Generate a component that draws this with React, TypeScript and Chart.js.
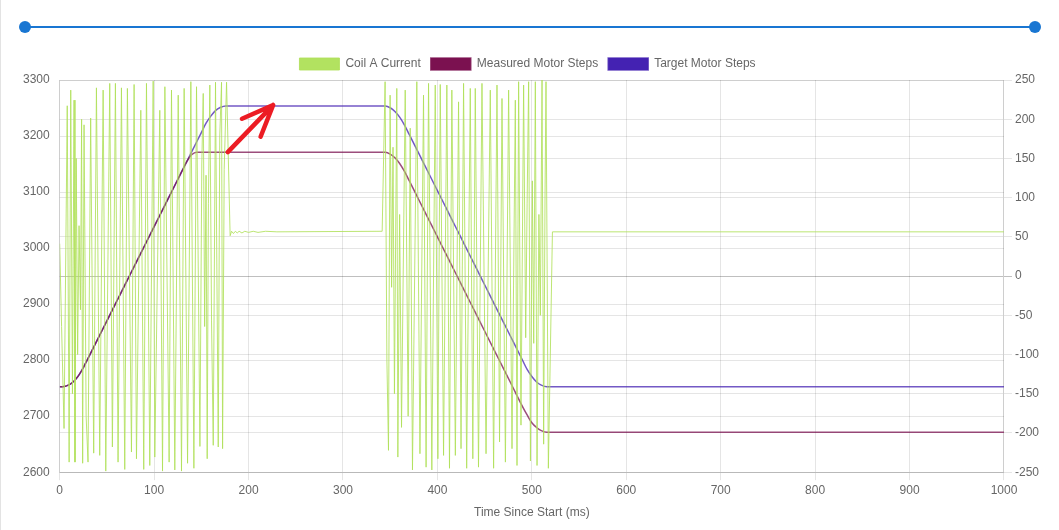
import React, { useEffect, useRef } from "react";
import { Chart, registerables } from "chart.js";

Chart.register(...registerables);

// ---- Data ----
const DATASET_LABELS = ["Coil A Current", "Measured Motor Steps", "Target Motor Steps"];

const COIL_T = [
  0, 2, 4.6, 8, 10, 11.7, 13.5, 15.2, 16.2, 17.5, 19, 20.5, 22, 23.2, 24.3, 25.8, 28, 30, 32.8, 36,
  38.9, 42.4, 46, 48.8, 53, 55.8, 59, 61.8, 65.4, 68.9, 71.7, 76, 78.8, 81.3, 85.9, 89, 91.9, 95.4, 99, 100.7,
  106, 108.9, 111.4, 115.9, 118.4, 121.9, 125.5, 129, 131.8, 135.4, 138.9, 142.1, 144.9, 148.5, 150.5, 152, 153.5, 155, 156.2, 157.5,
  159, 160.8, 162.6, 165, 166.5, 167.9, 169.5, 171.4, 172.5, 174.2, 176.7, 180.5, 182, 184, 186, 188, 190, 193, 196, 200,
  205, 210, 218, 230, 341.5, 344.6, 346.5, 348.2, 349.9, 351.5, 353, 354.5, 357, 358.1, 360, 362, 365.9, 369, 371.2, 373.6,
  378.2, 381.5, 385.3, 388, 390.6, 394.1, 397.7, 400.5, 403, 406.5, 410, 412.8, 415.3, 419, 422.4, 425, 427.7, 431, 434.8, 437.5,
  440.1, 443.5, 447.2, 451.5, 456, 459.5, 463.1, 465.8, 468.4, 472, 475.4, 479, 482.5, 484.3, 486, 488.5, 491.3, 493.5, 495, 496.6,
  498.5, 500.5, 502, 503.7, 505.5, 507.5, 509, 510.8, 512.5, 514, 515, 517.5, 521.8, 1000,
];
const COIL_V = [
  3008, 2860, 2678, 3254, 2618, 3282, 2740, 3264, 2618, 3160, 2810, 3040, 2890, 3230, 2616, 3220, 2700, 2618, 3232, 2634,
  3286, 2630, 3282, 2602, 3294, 2645, 3294, 2618, 3286, 2605, 3285, 2636, 3292, 2624, 3246, 2605, 3294, 2612, 3298, 2627,
  3246, 2602, 3288, 2618, 3282, 2604, 3273, 2602, 3285, 2616, 3297, 2607, 3288, 2646, 3150, 3276, 2860, 3130, 2624, 3080,
  3291, 2870, 2648, 3296, 2950, 2645, 3200, 3296, 2642, 3140, 3296, 3022, 3030, 3026, 3030, 3027, 3030, 3027, 3030, 3028,
  3030, 3028, 3030, 3029, 3030, 3297, 2800, 2639, 3273, 2930, 3180, 2740, 3285, 2627, 3060, 2680, 3282, 2700, 3214, 2604,
  3297, 2633, 3273, 2609, 3294, 2604, 3291, 2624, 3292, 2630, 3291, 2607, 3282, 2630, 3261, 2642, 3294, 2607, 3285, 2624,
  3285, 2609, 3294, 2633, 3282, 2607, 3291, 2654, 3267, 2618, 3282, 2642, 3264, 2612, 3297, 2684, 3291, 2840, 3080, 3297,
  2620, 3120, 2830, 3297, 2612, 3060, 2880, 3300, 2650, 3100, 3297, 2607, 3029, 3029,
];

const MEASURED_T = [
  0, 3, 6, 9, 12, 15, 18, 21, 24, 27, 30, 40, 50, 60, 70, 80, 90, 100, 110, 120,
  130, 135, 140, 145, 150, 345, 350, 355, 360, 365, 370, 380, 390, 400, 410, 420, 430, 440, 450, 460,
  470, 480, 490, 495, 500, 505, 510, 516, 1000,
];
const MEASURED_V = [
  -141, -141, -140.5, -139, -137, -134, -130, -125, -119, -112, -105, -81, -57, -33, -9, 15, 39, 63, 87, 111,
  135, 147, 155, 158, 158, 158, 155.6, 150.8, 143.6, 133.8, 122, 98, 74, 50, 26, 2, -22, -46, -70, -94,
  -118, -142, -166, -177, -187, -193, -197, -199, -199,
];

const TARGET_T = [
  0, 3, 6, 9, 12, 15, 18, 21, 24, 27, 30, 40, 50, 60, 70, 80, 90, 100, 110, 120,
  130, 140, 150, 155, 160, 165, 170, 176, 345, 350, 355, 360, 365, 370, 380, 390, 400, 410, 420, 430,
  440, 450, 460, 470, 480, 490, 495, 500, 505, 510, 516, 1000,
];
const TARGET_V = [
  -141, -141, -140.5, -139, -137, -134, -130, -125, -119, -112, -105, -81, -57, -33, -9, 15, 39, 63, 87, 111,
  135, 159, 183, 195, 204, 211, 215, 217, 217, 214.6, 209.8, 202.6, 192.8, 181, 157, 133, 109, 85, 61, 37,
  13, -11, -35, -59, -83, -107, -119, -128, -135, -139, -141, -141,
];

// annotation arrow (data coords: x in ms, y on right axis)
const ARROW_FROM = [178, 158];
const ARROW_TO = [226, 218];

const X_RANGE = [0, 1000];
const LEFT_RANGE = [2600, 3300];
const RIGHT_RANGE = [-250, 250];

const zip = (t: number[], v: number[]) => t.map((x, i) => ({ x, y: v[i] }));
const plain = (v: any) => String(v);

const arrowPlugin = {
  id: "redArrow",
  afterDatasetsDraw(chart: any) {
    const xs = chart.scales.x;
    const ys = chart.scales.yRight;
    const x0 = xs.getPixelForValue(ARROW_FROM[0]);
    const y0 = ys.getPixelForValue(ARROW_FROM[1]);
    const x1 = xs.getPixelForValue(ARROW_TO[0]);
    const y1 = ys.getPixelForValue(ARROW_TO[1]);
    const ang = Math.atan2(y0 - y1, x0 - x1);
    const ctx = chart.ctx;
    ctx.save();
    ctx.strokeStyle = "#ec1c24";
    ctx.lineWidth = 4.5;
    ctx.lineCap = "round";
    ctx.lineJoin = "round";
    ctx.beginPath();
    ctx.moveTo(x0, y0);
    ctx.lineTo(x1, y1);
    for (const d of [-0.39, 0.39]) {
      ctx.moveTo(x1, y1);
      ctx.lineTo(x1 + 34 * Math.cos(ang + d), y1 + 34 * Math.sin(ang + d));
    }
    ctx.stroke();
    ctx.restore();
  },
};

function ChartView() {
  const ref = useRef<HTMLCanvasElement | null>(null);
  useEffect(() => {
    if (!ref.current) return;
    Chart.defaults.font.family = "Arial, 'Liberation Sans', sans-serif";
    Chart.defaults.font.size = 12;
    Chart.defaults.color = "#666";
    const chart = new Chart(ref.current, {
      type: "line",
      data: {
        datasets: [
          {
            label: DATASET_LABELS[0],
            data: zip(COIL_T, COIL_V),
            yAxisID: "yLeft",
            borderColor: "rgba(176,224,90,0.85)",
            backgroundColor: "rgb(178,226,96)",
            borderWidth: 1,
            pointRadius: 0,
            tension: 0,
          },
          {
            label: DATASET_LABELS[1],
            data: zip(MEASURED_T, MEASURED_V),
            yAxisID: "yRight",
            borderColor: "rgba(123,17,80,0.75)",
            backgroundColor: "rgb(123,17,80)",
            borderWidth: 1.5,
            pointRadius: 0,
            cubicInterpolationMode: "monotone",
          },
          {
            label: DATASET_LABELS[2],
            data: zip(TARGET_T, TARGET_V),
            yAxisID: "yRight",
            borderColor: "rgba(68,34,178,0.75)",
            backgroundColor: "rgb(68,34,178)",
            borderWidth: 1.5,
            pointRadius: 0,
            cubicInterpolationMode: "monotone",
          },
        ],
      },
      options: {
        animation: false,
        responsive: true,
        maintainAspectRatio: false,
        layout: { padding: { left: 5, right: 9, top: 0, bottom: 0 } },
        plugins: {
          legend: {
            position: "top",
            labels: { boxWidth: 40, boxHeight: 12, color: "#666", font: { size: 12 } },
          },
          tooltip: { enabled: false },
        },
        scales: {
          x: {
            type: "linear",
            min: X_RANGE[0],
            max: X_RANGE[1],
            ticks: { stepSize: 100, color: "#666", padding: 3, callback: plain },
            grid: { color: "rgba(0,0,0,0.1)", tickLength: 8 },
            title: { display: true, text: "Time Since Start (ms)", color: "#666", padding: { top: 5, bottom: 4 } },
          },
          yLeft: {
            type: "linear",
            position: "left",
            min: LEFT_RANGE[0],
            max: LEFT_RANGE[1],
            ticks: { stepSize: 100, color: "#666", padding: 10, callback: plain },
            grid: { color: "rgba(0,0,0,0.1)", drawTicks: false },
          },
          yRight: {
            type: "linear",
            position: "right",
            min: RIGHT_RANGE[0],
            max: RIGHT_RANGE[1],
            ticks: { stepSize: 50, color: "#666", padding: 3, callback: plain },
            grid: {
              color: (c: any) => (c.tick && c.tick.value === 0 ? "rgba(0,0,0,0.25)" : "rgba(0,0,0,0.1)"),
              tickLength: 8,
            },
          },
        },
      },
      plugins: [arrowPlugin],
    } as any);
    return () => chart.destroy();
  }, []);
  return (
    <div style={{ position: "fixed", left: 8, top: 48, width: 1043, height: 476 }}>
      <canvas ref={ref} />
    </div>
  );
}

export default function App() {
  const blue = "#1976d2";
  return (
    <div>
      <div style={{ position: "fixed", left: 0, top: 0, width: 1, height: 530, background: "#e3e3e3" }} />
      <div style={{ position: "fixed", left: 25, top: 25.5, width: 1010, height: 2, background: blue }} />
      <div style={{ position: "fixed", left: 19, top: 20.5, width: 12, height: 12, borderRadius: 6, background: blue }} />
      <div style={{ position: "fixed", left: 1029, top: 20.5, width: 12, height: 12, borderRadius: 6, background: blue }} />
      <ChartView />
    </div>
  );
}
